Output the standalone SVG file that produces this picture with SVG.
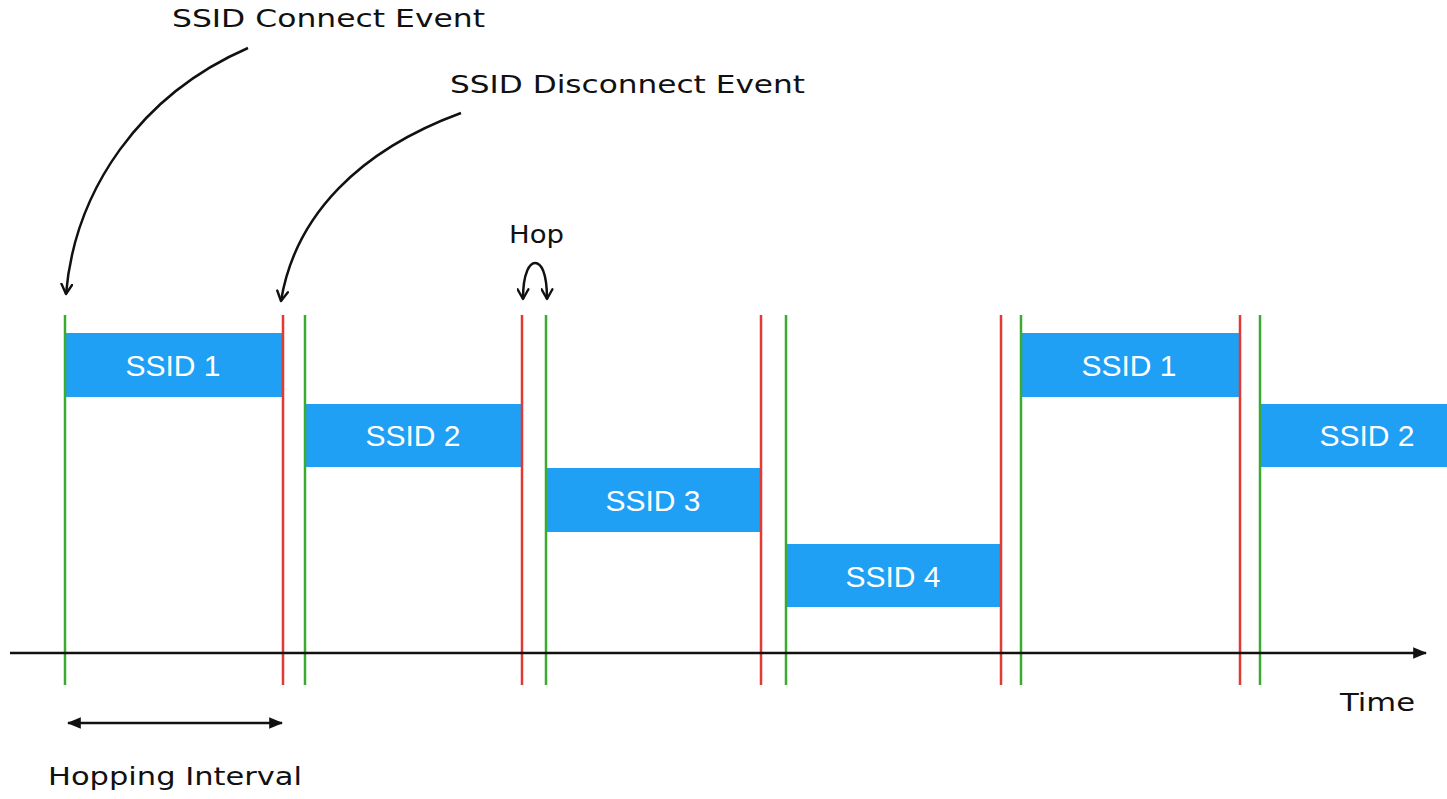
<svg xmlns="http://www.w3.org/2000/svg" width="1447" height="799" viewBox="0 0 1447 799">
<style>
.g{stroke:#3aab2e;stroke-width:2.5}
.r{stroke:#e03a32;stroke-width:2.5}
.bar{fill:#1fa0f5}
.bt{font-family:"Liberation Sans",Arial,sans-serif;font-size:30px;fill:#fff;text-anchor:middle}
.hand{font-family:"DejaVu Sans","Liberation Sans",sans-serif;font-size:24px;fill:#111}
.ln{fill:none;stroke:#111;stroke-width:2.5}
</style>
<defs>
<marker id="v" viewBox="0 0 12 12" refX="10" refY="6" markerWidth="13" markerHeight="13" markerUnits="userSpaceOnUse" orient="auto-start-reverse">
<path d="M1,1 L10,6 L1,11" fill="none" stroke="#111" stroke-width="2.2" stroke-linecap="round" stroke-linejoin="round"/>
</marker>
<marker id="tri" viewBox="0 0 12 12" refX="11" refY="6" markerWidth="14" markerHeight="14" markerUnits="userSpaceOnUse" orient="auto-start-reverse">
<path d="M0,1 L12,6 L0,11 Z" fill="#111"/>
</marker>
</defs>
<g id="bars">
<g id="ssid1a"><rect class="bar" x="65" y="333" width="218" height="64"/><text class="bt" x="173" y="376">SSID 1</text></g>
<g id="ssid2a"><rect class="bar" x="305" y="404" width="217" height="63"/><text class="bt" x="413" y="446">SSID 2</text></g>
<g id="ssid3"><rect class="bar" x="546" y="468" width="215" height="64"/><text class="bt" x="653" y="511">SSID 3</text></g>
<g id="ssid4"><rect class="bar" x="786" y="544" width="215" height="63"/><text class="bt" x="893" y="587">SSID 4</text></g>
<g id="ssid1b"><rect class="bar" x="1021" y="333" width="219" height="64"/><text class="bt" x="1129" y="376">SSID 1</text></g>
<g id="ssid2b"><rect class="bar" x="1260" y="404" width="187" height="63"/><text class="bt" x="1367" y="446">SSID 2</text></g>
</g>
<g id="events">
<line class="g" x1="65" y1="315" x2="65" y2="685"/>
<line class="r" x1="283" y1="315" x2="283" y2="685"/>
<line class="g" x1="305" y1="315" x2="305" y2="685"/>
<line class="r" x1="522" y1="315" x2="522" y2="685"/>
<line class="g" x1="546" y1="315" x2="546" y2="685"/>
<line class="r" x1="761" y1="315" x2="761" y2="685"/>
<line class="g" x1="786" y1="315" x2="786" y2="685"/>
<line class="r" x1="1001" y1="315" x2="1001" y2="685"/>
<line class="g" x1="1021" y1="315" x2="1021" y2="685"/>
<line class="r" x1="1240" y1="315" x2="1240" y2="685"/>
<line class="g" x1="1260" y1="315" x2="1260" y2="685"/>
</g>
<g id="connectors">
<line class="ln" x1="10" y1="653" x2="1426" y2="653" marker-end="url(#tri)"/>
<line class="ln" x1="68" y1="723" x2="282" y2="723" marker-start="url(#tri)" marker-end="url(#tri)"/>
<path class="ln" d="M248,48 C140,95 75,190 66,294" marker-end="url(#v)"/>
<path class="ln" d="M461,113 C360,150 295,215 281,301" marker-end="url(#v)"/>
<path class="ln" d="M523,299 C523,272 530,263 535,263 C541,263 547,272 547,299" marker-start="url(#v)" marker-end="url(#v)"/>
</g>
<g id="labels">
<text class="hand" x="172" y="27" textLength="313" lengthAdjust="spacingAndGlyphs">SSID Connect Event</text>
<text class="hand" x="450" y="93" textLength="355" lengthAdjust="spacingAndGlyphs">SSID Disconnect Event</text>
<text class="hand" x="509" y="243" textLength="55" lengthAdjust="spacingAndGlyphs">Hop</text>
<text class="hand" x="1340" y="711" textLength="75" lengthAdjust="spacingAndGlyphs">Time</text>
<text class="hand" x="48" y="785" textLength="254" lengthAdjust="spacingAndGlyphs">Hopping Interval</text>
</g>
</svg>
